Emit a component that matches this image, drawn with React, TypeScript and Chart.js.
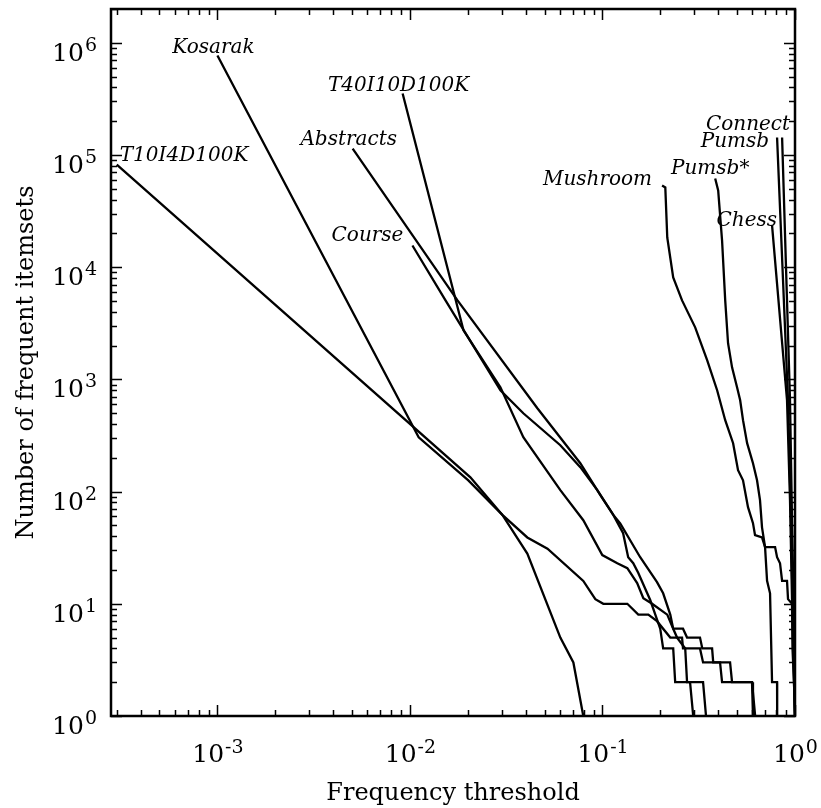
import { useEffect, useRef } from 'react';
import { Chart, registerables } from 'chart.js';

Chart.register(...registerables);

// ---- axis ranges / tick decades ----
const xMin = 0.00028;
const xMax = 1;
const yMin = 1;
const yMax = 2e6;
const xLabelDecades = [-3, -2, -1, 0];
const yLabelDecades = [0, 1, 2, 3, 4, 5, 6];
const xTitle = 'Frequency threshold';
const yTitle = 'Number of frequent itemsets';

// ---- series data (threshold, number of frequent itemsets) ----
const t10i4X = [0.0003, 0.0206, 0.0302, 0.0407, 0.0604, 0.0706, 0.0795];
const t10i4Y = [82000, 134, 62, 28, 5, 3, 1];

const kosarakX = [0.001, 0.0111, 0.0201, 0.0302, 0.0407, 0.0518, 0.0795, 0.0918, 0.101, 0.1346, 0.1535, 0.173, 0.192, 0.225, 0.259, 0.262, 0.321, 0.333, 0.408, 0.418, 0.598, 0.621];
const kosarakY = [770000, 305, 126, 62, 39, 31, 16, 11, 10, 10, 8, 8, 7, 5, 5, 4, 4, 3, 3, 2, 2, 1];

const abstractsX = [0.00504, 0.01766, 0.0459, 0.0767, 0.0975, 0.1138, 0.1236, 0.157, 0.192, 0.2066, 0.225, 0.233, 0.262, 0.275, 0.321, 0.33, 0.371, 0.376, 0.46, 0.471, 0.598, 0.605];
const abstractsY = [114000, 5060, 553, 179, 93, 62, 52, 26, 15.6, 12.4, 8, 6, 6, 5, 5, 4, 4, 3, 3, 2, 2, 1];

const t40i10X = [0.00916, 0.01897, 0.0295, 0.0388, 0.0604, 0.0795, 0.0998, 0.1194, 0.1346, 0.1514, 0.163, 0.181, 0.217, 0.233, 0.244, 0.269, 0.275, 0.333, 0.345];
const t40i10Y = [353000, 2735, 851, 305, 103, 55.6, 27.2, 23, 20.8, 15.3, 11.2, 10, 8, 6, 5, 4, 2, 2, 1];

const courseX = [0.0103, 0.0153, 0.0295, 0.0388, 0.0604, 0.0767, 0.094, 0.1138, 0.128, 0.136, 0.1445, 0.1535, 0.1708, 0.177, 0.1995, 0.2066, 0.233, 0.2386, 0.285, 0.296];
const courseY = [15600, 5060, 800, 499, 259, 165, 103, 62, 42.6, 26, 23, 18.8, 12.4, 10.8, 6, 4, 4, 2, 2, 1];

const mushroomX = [0.204, 0.212, 0.217, 0.233, 0.259, 0.303, 0.35, 0.394, 0.434, 0.477, 0.506, 0.537, 0.57, 0.605, 0.62, 0.674, 0.699, 0.788, 0.807, 0.836, 0.857, 0.909, 0.92, 0.965, 0.965, 0.976, 0.988, 1.0];
const mushroomY = [53500, 51400, 18400, 8110, 5060, 2910, 1480, 800, 433, 270, 155, 126, 72.6, 52.3, 40.9, 39, 32, 32, 26, 23, 16, 16, 11, 10, 8, 4, 2, 1];

const pumsbStarX = [0.385, 0.399, 0.418, 0.434, 0.449, 0.471, 0.5, 0.519, 0.537, 0.564, 0.605, 0.635, 0.658, 0.674, 0.699, 0.716, 0.742, 0.76, 0.807, 0.808];
const pumsbStarY = [61800, 48300, 17300, 5060, 2100, 1280, 851, 652, 433, 270, 179, 126, 84, 48, 32, 16, 12.4, 2, 2, 1];

const chessX = [0.76, 0.909, 0.942, 0.965, 0.988, 1.0];
const chessY = [23600, 652, 84, 11, 2, 1];

const pumsbX = [0.807, 0.92, 0.953, 0.976, 1.0];
const pumsbY = [143000, 652, 56, 7, 1];

const connectX = [0.857, 0.942, 0.965, 0.988, 1.0];
const connectY = [143000, 652, 56, 7, 1];

const seriesNames = ['T10I4D100K', 'Kosarak', 'Abstracts', 'T40I10D100K', 'Course', 'Mushroom', 'Pumsb*', 'Chess', 'Pumsb', 'Connect'];
const seriesXs = [t10i4X, kosarakX, abstractsX, t40i10X, courseX, mushroomX, pumsbStarX, chessX, pumsbX, connectX];
const seriesYs = [t10i4Y, kosarakY, abstractsY, t40i10Y, courseY, mushroomY, pumsbStarY, chessY, pumsbY, connectY];

// ---- label placement style (offset from each series' first point, in px) ----
const labelStyle: { align: CanvasTextAlign; dx: number; dy: number }[] = [
  { align: 'left', dx: 3, dy: -4 },
  { align: 'center', dx: -4, dy: -3 },
  { align: 'center', dx: -4, dy: -4 },
  { align: 'center', dx: -4, dy: -3 },
  { align: 'right', dx: -9, dy: -5 },
  { align: 'right', dx: -10, dy: 0 },
  { align: 'center', dx: -5, dy: -4 },
  { align: 'right', dx: 5, dy: 1 },
  { align: 'right', dx: -8, dy: 9 },
  { align: 'right', dx: 8, dy: -8 },
];

const SERIF = '"DejaVu Serif", serif';

const decorPlugin = {
  id: 'decor',
  afterDraw(chart: any) {
    const { ctx, chartArea: a, scales } = chart;
    const xs = scales.x;
    const ys = scales.y;
    ctx.save();
    ctx.strokeStyle = '#000';
    ctx.fillStyle = '#000';

    // tick marks (inward, mirrored on all sides)
    ctx.lineWidth = 1.5;
    ctx.beginPath();
    for (let d = -4; d <= 0; d++) {
      for (let k = 1; k <= 9; k++) {
        const v = k * Math.pow(10, d);
        if (v < xMin * 0.999 || v > xMax * 1.001) continue;
        const px = Math.round(xs.getPixelForValue(v)) + 0.5;
        const len = k === 1 ? 11 : 6;
        ctx.moveTo(px, a.bottom);
        ctx.lineTo(px, a.bottom - len);
        ctx.moveTo(px, a.top);
        ctx.lineTo(px, a.top + len);
      }
    }
    for (let d = 0; d <= 6; d++) {
      for (let k = 1; k <= 9; k++) {
        const v = k * Math.pow(10, d);
        if (v < yMin * 0.999 || v > yMax * 1.001) continue;
        const py = Math.round(ys.getPixelForValue(v)) + 0.5;
        const len = k === 1 ? 11 : 6;
        ctx.moveTo(a.left, py);
        ctx.lineTo(a.left + len, py);
        ctx.moveTo(a.right, py);
        ctx.lineTo(a.right - len, py);
      }
    }
    ctx.stroke();

    // frame
    ctx.lineWidth = 2.5;
    ctx.strokeRect(a.left, a.top, a.right - a.left, a.bottom - a.top);

    // tick labels 10^n
    const baseFont = `25px ${SERIF}`;
    const expFont = `19px ${SERIF}`;
    ctx.textBaseline = 'alphabetic';
    ctx.textAlign = 'left';
    for (const d of xLabelDecades) {
      const px = xs.getPixelForValue(Math.pow(10, d));
      ctx.font = baseFont;
      const w1 = ctx.measureText('10').width;
      ctx.font = expFont;
      const e = String(d);
      const w2 = ctx.measureText(e).width;
      const x0 = px - (w1 + w2) / 2;
      ctx.font = baseFont;
      ctx.fillText('10', x0, a.bottom + 46);
      ctx.font = expFont;
      ctx.fillText(e, x0 + w1 + 1, a.bottom + 37);
    }
    for (const d of yLabelDecades) {
      const py = ys.getPixelForValue(Math.pow(10, d));
      ctx.font = baseFont;
      const w1 = ctx.measureText('10').width;
      ctx.font = expFont;
      const e = String(d);
      const w2 = ctx.measureText(e).width;
      const x0 = a.left - 14 - w1 - w2 - 1;
      ctx.font = baseFont;
      ctx.fillText('10', x0, py + 18);
      ctx.font = expFont;
      ctx.fillText(e, x0 + w1 + 1, py + 8);
    }

    // axis titles
    ctx.font = `24px ${SERIF}`;
    ctx.textAlign = 'center';
    ctx.fillText(xTitle, (a.left + a.right) / 2, a.bottom + 84);
    ctx.save();
    ctx.translate(a.left - 78, (a.top + a.bottom) / 2);
    ctx.rotate(-Math.PI / 2);
    ctx.fillText(yTitle, 0, 0);
    ctx.restore();

    // series labels
    ctx.font = `italic 20px ${SERIF}`;
    seriesNames.forEach((name, i) => {
      const st = labelStyle[i];
      const px = xs.getPixelForValue(seriesXs[i][0]);
      const py = ys.getPixelForValue(seriesYs[i][0]);
      ctx.textAlign = st.align;
      ctx.fillText(name, px + st.dx, py + st.dy);
    });
    ctx.restore();
  },
};

export default function App() {
  const ref = useRef<HTMLCanvasElement | null>(null);
  useEffect(() => {
    if (!ref.current) return;
    const chart = new Chart(ref.current, {
      type: 'scatter',
      data: {
        datasets: seriesNames.map((name, i) => ({
          label: name,
          data: seriesXs[i].map((x, j) => ({ x, y: seriesYs[i][j] })),
          showLine: true,
          borderColor: '#000',
          backgroundColor: '#000',
          borderWidth: 2.3,
          pointRadius: 0,
          pointHoverRadius: 0,
          tension: 0,
          fill: false,
        })),
      },
      options: {
        responsive: false,
        animation: false,
        devicePixelRatio: 1,
        layout: { padding: { left: 111, right: 26, top: 9, bottom: 92 } },
        plugins: { legend: { display: false }, tooltip: { enabled: false }, title: { display: false } },
        scales: {
          x: { type: 'logarithmic', min: xMin, max: xMax, display: false },
          y: { type: 'logarithmic', min: yMin, max: yMax, display: false },
        },
      },
      plugins: [decorPlugin],
    });
    return () => chart.destroy();
  }, []);
  return (
    <div style={{ position: 'absolute', left: 0, top: 0, width: 821, height: 808, background: '#fff' }}>
      <canvas ref={ref} width={821} height={808} style={{ display: 'block' }} />
    </div>
  );
}
